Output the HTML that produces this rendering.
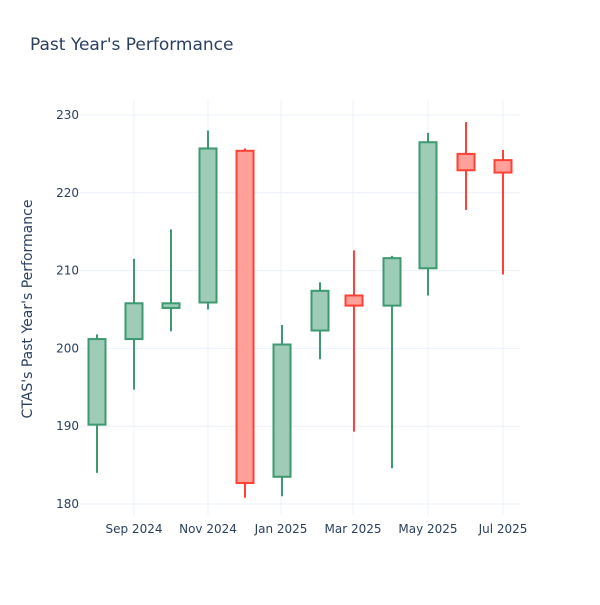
<!DOCTYPE html>
<html><head><meta charset="utf-8"><style>
html,body{margin:0;padding:0;background:#fff;}
svg text{font-family:"DejaVu Sans","Liberation Sans",sans-serif;fill:#2a3f5f;}
</style></head><body>
<svg id="s" width="600" height="600" xmlns="http://www.w3.org/2000/svg">
<rect width="600" height="600" fill="#fff"/>
<text x="30" y="50" font-size="17">Past Year's Performance</text>
<text transform="translate(32,309) rotate(-90)" text-anchor="middle" font-size="14">CTAS's Past Year's Performance</text>
<g id="grid"></g>
<g id="c"></g>
</svg>
<script>
var ns="http://www.w3.org/2000/svg";
function Y(v){return 504-(v-180)*7.78;}
function el(p,t,a,txt){var e=document.createElementNS(ns,t);for(var k in a)e.setAttribute(k,a[k]);if(txt)e.textContent=txt;p.appendChild(e);return e;}
var g=document.getElementById('grid'),c=document.getElementById('c');
for(var v=180;v<=230;v+=10){var y=Y(v);el(g,'line',{x1:80,x2:520,y1:y,y2:y,stroke:'#ebf0f8','stroke-width':1});
el(g,'text',{x:79,y:y+4,'text-anchor':'end','font-size':12},''+v);}
var xs=[[134,'Sep 2024'],[208,'Nov 2024'],[281,'Jan 2025'],[353,'Mar 2025'],[428,'May 2025'],[503,'Jul 2025']];
xs.forEach(function(a){el(g,'line',{x1:a[0],x2:a[0],y1:100,y2:515,stroke:'#ebf0f8','stroke-width':1});
el(g,'text',{x:a[0],y:533,'text-anchor':'middle','font-size':12},a[1]);});
var d=[[97,190.2,201.2,201.8,184],[134,201.2,205.8,211.5,194.7],[171,205.2,205.8,215.3,202.2],[208,205.9,225.7,228,205],
[245,225.4,182.7,225.7,180.8],[282,183.5,200.5,203,181],[320,202.3,207.4,208.5,198.6],[354,206.8,205.5,212.6,189.3],
[392,205.5,211.6,211.9,184.6],[428,210.3,226.5,227.7,206.8],[466,225,222.9,229.1,217.8],[503,224.2,222.6,225.5,209.5]];
d.forEach(function(k){var up=k[2]>=k[1];var col=up?'#3D9970':'#FF4136',fill=up?'rgba(61,153,112,0.5)':'rgba(255,65,54,0.5)';
var top=Math.max(k[1],k[2]),bot=Math.min(k[1],k[2]);
el(c,'line',{x1:k[0],x2:k[0],y1:Y(k[3]),y2:Y(k[4]),stroke:col,'stroke-width':2});
el(c,'rect',{x:k[0]-8.5,y:Y(top),width:17,height:Math.max(Y(bot)-Y(top),1),fill:'#fff',stroke:'none'});
el(c,'rect',{x:k[0]-8.5,y:Y(top),width:17,height:Math.max(Y(bot)-Y(top),1),fill:fill,stroke:col,'stroke-width':2});});
</script>
</body></html>
